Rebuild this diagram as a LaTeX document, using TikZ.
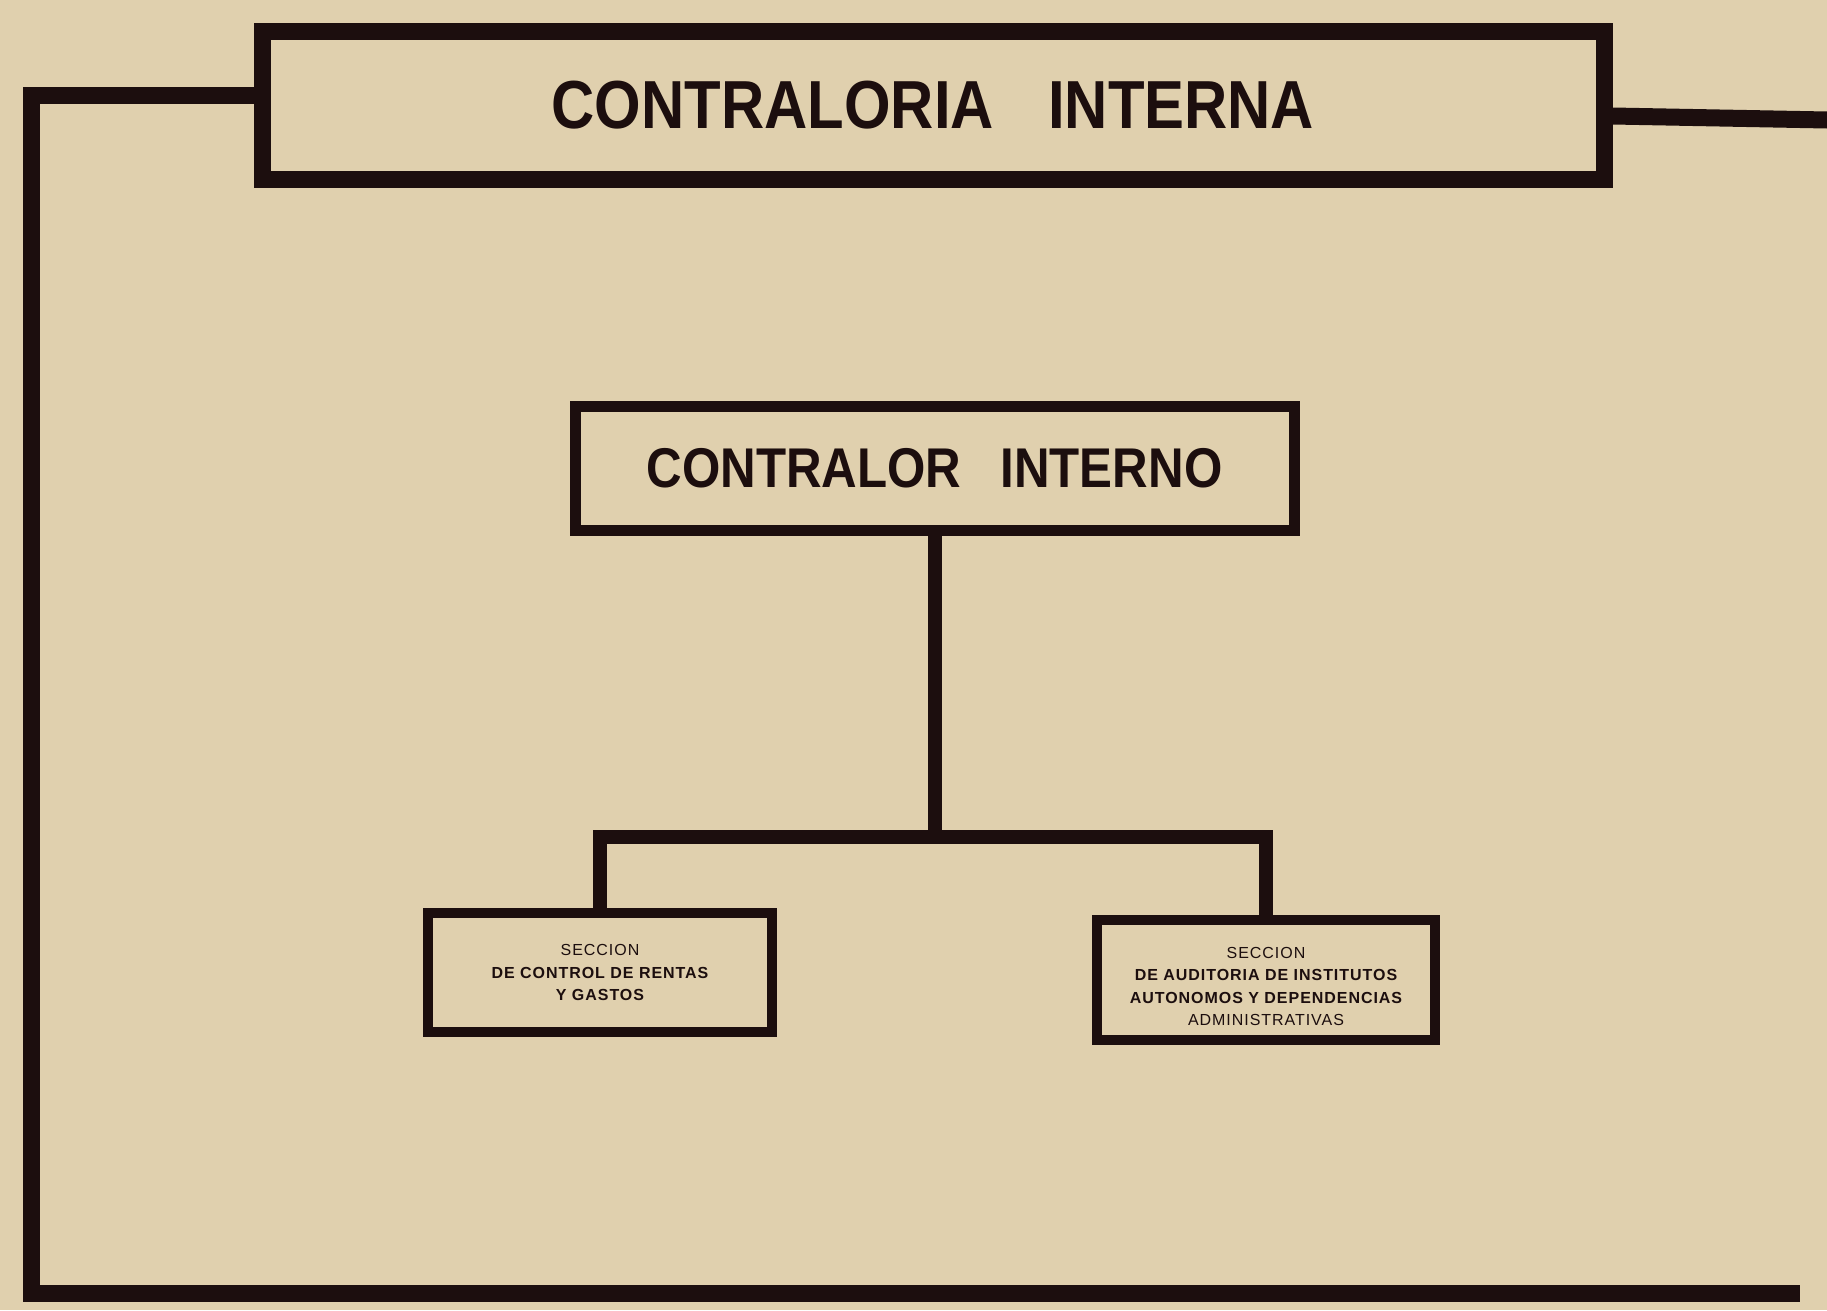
\documentclass[tikz,border=0pt]{standalone}
\usepackage{fontspec}
\setmainfont{Liberation Sans}
\newfontfamily\headfont[FakeStretch=0.88]{Liberation Sans Bold}
\newfontfamily\sectfont[LetterSpace=6]{Liberation Sans}
\newfontfamily\sectboldfont[LetterSpace=6]{Liberation Sans Bold}
\definecolor{paper}{RGB}{224,208,174}
\definecolor{ink}{RGB}{28,14,14}

\begin{document}
\begin{tikzpicture}[x=0.75pt,y=0.75pt,yscale=-1,xscale=1,
    orgbox/.style={draw=ink,fill=paper,inner sep=0pt,align=center,text=ink},
    sectbox/.style={orgbox,line width=7.5pt,font=\sectfont\fontsize{12}{16.9}\selectfont},
    frameline/.style={draw=ink,line width=12.75pt},
    link/.style={draw=ink,line width=10.5pt}]
        \useasboundingbox (0,0) rectangle (1827,1310);
        \fill [paper] (0,0) rectangle (1827,1310);

        \draw (933,105) node (title) [orgbox,line width=12.75pt,minimum width=1006.5pt,minimum height=111pt] {\headfont\fontsize{51}{60}\selectfont CONTRALORIA\hspace{0.8em}INTERNA};
        \draw (934.5,468) node (contralor) [orgbox,line width=8.25pt,minimum width=539.25pt,minimum height=93pt] {\headfont\fontsize{42}{50}\selectfont CONTRALOR\hspace{0.7em}INTERNO};
        \draw (600,972.5) node (rentas) [sectbox,minimum width=258pt,minimum height=89.25pt] {SECCION\\ {\sectboldfont DE CONTROL DE RENTAS}\\ {\sectboldfont Y GASTOS}};
        \draw (1266,980) node (auditoria) [sectbox,minimum width=253.5pt,minimum height=90pt] {\rule{0pt}{18pt}SECCION\\ {\sectboldfont DE AUDITORIA DE INSTITUTOS}\\ {\sectboldfont AUTONOMOS Y DEPENDENCIAS}\\ ADMINISTRATIVAS};

        \draw [frameline] (title.west |- 0,95) -| (31,1293) -- (1800,1293);
        \draw [frameline] (title.east |- 0,116) -- (1827,120);

        \draw [link] (contralor.south) -- (contralor.south |- 0,837) coordinate (fork);
        \draw [link] (rentas.north) |- (fork) -| (auditoria.north);
    \end{tikzpicture}
\end{document}
